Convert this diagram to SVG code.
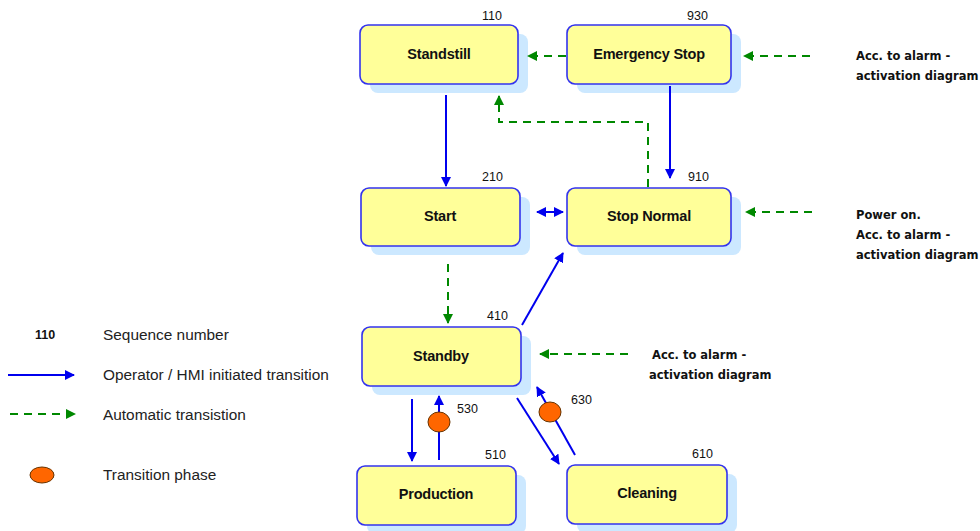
<svg xmlns="http://www.w3.org/2000/svg" width="980" height="531" viewBox="0 0 980 531">
<style>
.box{fill:#ffff99;stroke:#3333ee;stroke-width:1.6}
.sh{fill:#cce8ff}
.lbl{font-family:"Liberation Sans",Arial,sans-serif;font-weight:bold;font-size:14.5px;fill:#111;text-anchor:middle;letter-spacing:-0.2px}
.num{font-family:"Liberation Sans",Arial,sans-serif;font-size:12.5px;fill:#111}
.ext{font-family:"DejaVu Sans",Tahoma,sans-serif;font-weight:bold;font-size:11.5px;fill:#111}
.leg{font-family:"Liberation Sans",Arial,sans-serif;font-size:15.4px;fill:#222}
.op{stroke:#0000ee;stroke-width:2;fill:none}
.au{stroke:#008800;stroke-width:2;fill:none;stroke-dasharray:8 6}
.ph{fill:#ff6600;stroke:#663300;stroke-width:1}
</style>
<defs>
<marker id="ab" viewBox="0 0 10 10" refX="9" refY="5" markerWidth="5" markerHeight="5" orient="auto-start-reverse"><path d="M0,0 L10,5 L0,10 z" fill="#0000ee"/></marker>
<marker id="ag" viewBox="0 0 10 10" refX="9" refY="5" markerWidth="5" markerHeight="5" orient="auto"><path d="M0,0 L10,5 L0,10 z" fill="#008800"/></marker>
</defs>
<rect width="980" height="531" fill="#fff"/>

<g id="standstill"><rect class="sh" x="370" y="34" width="158" height="59" rx="8"/><rect class="box" x="360" y="25" width="158" height="59" rx="8"/><text class="lbl" x="439" y="59">Standstill</text><text class="num" x="482" y="20">110</text></g>
<g id="emergency-stop"><rect class="sh" x="577" y="34" width="164" height="59" rx="8"/><rect class="box" x="567" y="25" width="164" height="59" rx="8"/><text class="lbl" x="649" y="59">Emergency Stop</text><text class="num" x="687" y="20">930</text></g>
<g id="start"><rect class="sh" x="371" y="197" width="159" height="58" rx="8"/><rect class="box" x="361" y="188" width="159" height="58" rx="8"/><text class="lbl" x="440" y="221">Start</text><text class="num" x="482" y="181">210</text></g>
<g id="stop-normal"><rect class="sh" x="577" y="197" width="164" height="58" rx="8"/><rect class="box" x="567" y="188" width="164" height="58" rx="8"/><text class="lbl" x="649" y="221">Stop Normal</text><text class="num" x="688" y="181">910</text></g>
<g id="standby"><rect class="sh" x="372" y="336" width="159" height="59" rx="8"/><rect class="box" x="362" y="327" width="159" height="59" rx="8"/><text class="lbl" x="441" y="361">Standby</text><text class="num" x="487" y="320">410</text></g>
<g id="production"><rect class="sh" x="367" y="475" width="159" height="59" rx="8"/><rect class="box" x="357" y="466" width="159" height="59" rx="8"/><text class="lbl" x="436" y="499">Production</text><text class="num" x="485" y="459">510</text></g>
<g id="cleaning"><rect class="sh" x="577" y="474" width="160" height="59" rx="8"/><rect class="box" x="567" y="465" width="160" height="59" rx="8"/><text class="lbl" x="647" y="498">Cleaning</text><text class="num" x="692" y="458">610</text></g>

<g id="external-labels">
<text class="ext" x="856" y="60">Acc. to alarm -</text><text class="ext" x="856" y="80">activation diagram</text>
<text class="ext" x="856" y="219">Power on.</text><text class="ext" x="856" y="239">Acc. to alarm -</text><text class="ext" x="856" y="259">activation diagram</text>
<text class="ext" x="652" y="359">Acc. to alarm -</text><text class="ext" x="649" y="379">activation diagram</text>
</g>

<g id="connectors">
<line class="au" x1="566" y1="56" x2="528" y2="56" marker-end="url(#ag)"/>
<line class="au" x1="810" y1="56" x2="744" y2="56" marker-end="url(#ag)"/>
<line class="op" x1="446" y1="95" x2="446" y2="186" marker-end="url(#ab)"/>
<line class="op" x1="670" y1="86" x2="670" y2="178" marker-end="url(#ab)"/>
<polyline class="au" points="648,187 648,122 499,122 499,96" marker-end="url(#ag)"/>
<line class="op" x1="537" y1="212" x2="563" y2="212" marker-start="url(#ab)" marker-end="url(#ab)"/>
<line class="au" x1="812" y1="212" x2="746" y2="212" marker-end="url(#ag)"/>
<line class="au" x1="448" y1="264" x2="448" y2="323" marker-end="url(#ag)"/>
<line class="op" x1="522" y1="325" x2="563" y2="253" marker-end="url(#ab)"/>
<line class="au" x1="628" y1="354" x2="540" y2="354" marker-end="url(#ag)"/>
<line class="op" x1="412" y1="399" x2="412" y2="461" marker-end="url(#ab)"/>
<line class="op" x1="439" y1="460" x2="439" y2="396" marker-end="url(#ab)"/>
<ellipse class="ph" cx="439" cy="422" rx="11" ry="10"/>
<text class="num" x="457" y="413">530</text>
<line class="op" x1="517" y1="398" x2="559" y2="464" marker-end="url(#ab)"/>
<line class="op" x1="575" y1="455" x2="537" y2="387" marker-end="url(#ab)"/>
<ellipse class="ph" cx="550" cy="412" rx="11" ry="10"/>
<text class="num" x="571" y="404">630</text>
</g>

<g id="legend">
<text class="num" x="35" y="339" font-weight="bold" font-size="11">110</text>
<text class="leg" x="103" y="340">Sequence number</text>
<line class="op" x1="8" y1="375" x2="74" y2="375" marker-end="url(#ab)"/>
<text class="leg" x="103" y="380">Operator / HMI initiated transition</text>
<line class="au" x1="10" y1="414" x2="75" y2="414" marker-end="url(#ag)"/>
<text class="leg" x="103" y="420">Automatic transistion</text>
<ellipse class="ph" cx="42" cy="475" rx="12" ry="8"/>
<text class="leg" x="103" y="480">Transition phase</text>
</g>
</svg>
